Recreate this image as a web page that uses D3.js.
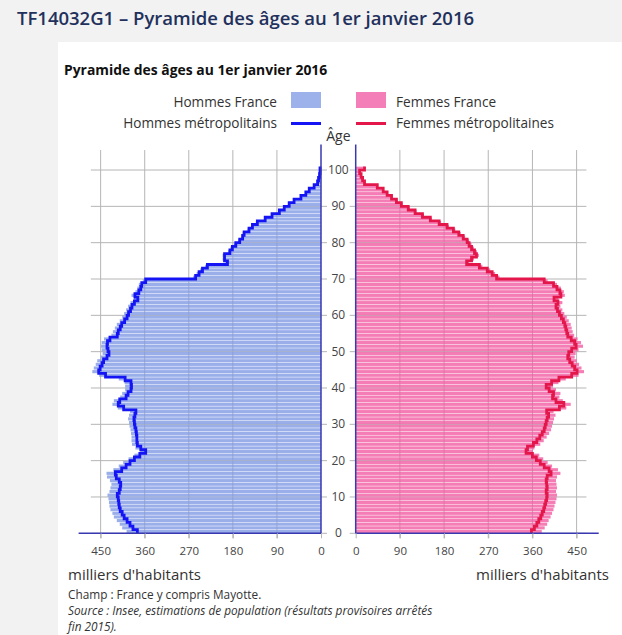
<!DOCTYPE html>
<html><head><meta charset="utf-8">
<script src="https://cdn.jsdelivr.net/npm/d3@7"></script>
<style>body{margin:0;background:#f2f2f2;} svg{display:block;font-family:"Open Sans",sans-serif;}</style>
</head><body><svg id="c" width="622" height="635"></svg>
<script>
const ages = d3.range(0, 101);
const hommesFrance = [397,406,411,417,423,426,430,432,433,434,
436,432,430,428,431,437,438,424,413,404,
393,381,369,379,386,387,387,388,389,391,
392,394,392,390,415,426,423,410,406,400,
400,401,413,453,467,464,460,457,450,446,
448,449,448,443,428,425,421,417,411,406,
402,398,394,389,382,387,379,375,372,364,
261,254,247,237,195,201,201,190,185,178,
169,163,160,150,143,133,116,102,87,77,
67,56,42,32,25,15,8,5,3,2,2];
const hommesMetro = [375,384,390,396,402,406,410,412,413,414,
416,412,410,409,412,418,420,407,398,390,
381,370,358,368,375,376,376,377,378,380,
381,382,380,378,403,414,411,398,394,388,
387,388,400,440,454,451,447,444,437,433,
435,437,436,431,416,414,410,407,401,396,
393,389,386,381,374,380,372,368,366,358,
256,249,242,232,191,197,197,186,181,174,
166,160,157,147,140,130,114,100,85,75,
65,55,41,31,24,14,7,5,3,2,2];
const femmesFrance = [379,385,390,393,397,400,403,405,407,409,
410,408,410,409,408,410,417,412,400,391,
382,374,361,364,376,383,389,394,398,400,
402,404,407,403,429,438,422,415,417,408,
402,413,428,454,465,460,455,450,446,448,
454,463,459,452,445,442,440,438,434,430,
425,421,417,421,413,426,424,418,410,391,
293,284,274,258,231,241,251,247,241,236,
231,223,214,203,190,174,155,139,124,110,
95,85,75,66,57,45,19,15,11,8,18];
const femmesMetro = [358,364,369,373,377,380,383,385,387,389,
390,388,390,389,388,390,398,394,384,376,
368,360,347,350,362,369,375,380,384,386,
388,390,393,389,415,424,408,401,403,394,
388,399,414,440,451,446,441,436,432,434,
440,449,446,439,432,430,428,426,423,419,
415,411,408,412,404,418,416,410,403,384,
287,278,268,252,226,236,246,242,236,231,
227,219,210,199,186,170,152,136,121,107,
93,83,73,64,56,44,18,14,11,8,18];
const xTicks = [0, 90, 180, 270, 360, 450];
const ageTicks = [0, 10, 20, 30, 40, 50, 60, 70, 80, 90, 100];
const legendLabels = ["Hommes France", "Femmes France", "Hommes métropolitains", "Femmes métropolitaines"];

const cBlueFill = "rgb(129,154,229)", cPinkFill = "rgb(243,93,163)";
const cBlueLine = "#1414f5", cRedLine = "#e3174a", cAxis = "#3838b0", cGrid = "#b5b5b5";

const svg = d3.select("#c");
svg.append("rect").attr("width", 622).attr("height", 635).attr("fill", "#f2f2f2");
svg.append("rect").attr("x", 58).attr("y", 42).attr("width", 564).attr("height", 593).attr("fill", "#fff");

svg.append("text").attr("x", 17).attr("y", 25).attr("font-size", 18.5).attr("font-weight", 600)
  .attr("fill", "#22305c").text("TF14032G1 – Pyramide des âges au 1er janvier 2016");
svg.append("text").attr("x", 64).attr("y", 75).attr("font-size", 13.9).attr("font-weight", 700)
  .attr("fill", "#111").text("Pyramide des âges au 1er janvier 2016");

const y = d3.scaleLinear().domain([0, 107]).range([533.3, 144.6]);
const xL = d3.scaleLinear().domain([0, 495]).range([321, 78.6]);
const xR = d3.scaleLinear().domain([0, 495]).range([355.7, 598.7]);

// legend
const lg = svg.append("g").attr("font-size", 13.6).attr("fill", "#333");
lg.append("text").attr("x", 277).attr("y", 107).attr("text-anchor", "end").text(legendLabels[0]);
lg.append("rect").attr("x", 291).attr("y", 92).attr("width", 30).attr("height", 16).attr("fill", "#9db1ea");
lg.append("rect").attr("x", 356).attr("y", 92).attr("width", 30).attr("height", 16).attr("fill", "#f47eb7");
lg.append("text").attr("x", 396).attr("y", 107).text(legendLabels[1]);
lg.append("text").attr("x", 277).attr("y", 128).attr("text-anchor", "end").text(legendLabels[2]);
lg.append("line").attr("x1", 291).attr("x2", 321).attr("y1", 123.5).attr("y2", 123.5).attr("stroke", cBlueLine).attr("stroke-width", 3);
lg.append("line").attr("x1", 356).attr("x2", 386).attr("y1", 123.5).attr("y2", 123.5).attr("stroke", cRedLine).attr("stroke-width", 3);
lg.append("text").attr("x", 396).attr("y", 128).text(legendLabels[3]);

// grid
const grid = svg.append("g").attr("stroke", cGrid).attr("stroke-width", 1);
ageTicks.forEach(a => {
  grid.append("line").attr("x1", xL(470)).attr("x2", xL(0) + 6).attr("y1", y(a)).attr("y2", y(a));
  grid.append("line").attr("x1", xR(0) - 6).attr("x2", xR(470)).attr("y1", y(a)).attr("y2", y(a));
});
xTicks.filter(t => t > 0).forEach(t => {
  grid.append("line").attr("x1", xL(t)).attr("x2", xL(t)).attr("y1", y(105.5)).attr("y2", y(0) + 5);
  grid.append("line").attr("x1", xR(t)).attr("x2", xR(t)).attr("y1", y(105.5)).attr("y2", y(0) + 5);
});

// bars
const bh = a => y(a) - y(a + 1);
svg.append("g").selectAll("rect").data(ages).join("rect")
  .attr("x", a => xL(hommesFrance[a])).attr("width", a => xL(0) - xL(hommesFrance[a]))
  .attr("y", a => y(a + 1) + 0.25).attr("height", a => bh(a) - 0.5)
  .attr("fill", cBlueFill).attr("fill-opacity", 0.8);
svg.append("g").selectAll("rect").data(ages).join("rect")
  .attr("x", xR(0)).attr("width", a => xR(femmesFrance[a]) - xR(0))
  .attr("y", a => y(a + 1) + 0.25).attr("height", a => bh(a) - 0.5)
  .attr("fill", cPinkFill).attr("fill-opacity", 0.8);

// step lines
function stepPts(vals, xs) {
  const pts = [];
  vals.forEach((v, a) => { pts.push([xs(v), y(a)]); pts.push([xs(v), y(a + 1)]); });
  return pts;
}
const lineGen = d3.line();
svg.append("path").attr("d", lineGen(stepPts(hommesMetro, xL))).attr("fill", "none")
  .attr("stroke", cBlueLine).attr("stroke-width", 2.8).attr("stroke-linejoin", "miter");
svg.append("path").attr("d", lineGen(stepPts(femmesMetro, xR))).attr("fill", "none")
  .attr("stroke", cRedLine).attr("stroke-width", 2.8).attr("stroke-linejoin", "miter");

// axes lines
const ax = svg.append("g").attr("stroke", cAxis).attr("stroke-width", 1.5);
ax.append("line").attr("x1", xL(0)).attr("x2", xL(0)).attr("y1", y(107)).attr("y2", y(0));
ax.append("line").attr("x1", xR(0)).attr("x2", xR(0)).attr("y1", y(107)).attr("y2", y(0));
ax.append("line").attr("x1", xL(495)).attr("x2", xL(0)).attr("y1", y(0)).attr("y2", y(0));
ax.append("line").attr("x1", xR(0)).attr("x2", xR(495)).attr("y1", y(0)).attr("y2", y(0));

// x axes labels
function styleAxis(g) {
  g.select(".domain").remove();
  g.selectAll(".tick line").attr("stroke", cGrid);
  g.selectAll(".tick text").attr("font-size", 11.5).attr("fill", "#444").attr("font-family", "Open Sans, sans-serif");
}
svg.append("g").attr("transform", `translate(0,${y(0)})`)
  .call(d3.axisBottom(xL).tickValues(xTicks).tickSize(5).tickPadding(9).tickFormat(d3.format("d"))).call(styleAxis);
svg.append("g").attr("transform", `translate(0,${y(0)})`)
  .call(d3.axisBottom(xR).tickValues(xTicks).tickSize(5).tickPadding(9).tickFormat(d3.format("d"))).call(styleAxis);

// age labels
const midX = (xL(0) + xR(0)) / 2;
svg.append("g").selectAll("text").data(ageTicks).join("text")
  .attr("x", midX).attr("y", a => y(a) + 4).attr("text-anchor", "middle")
  .attr("font-size", 12).attr("fill", "#444").text(a => a);
svg.append("text").attr("x", midX).attr("y", 141).attr("text-anchor", "middle")
  .attr("font-size", 14).attr("fill", "#333").text("Âge");

svg.append("text").attr("x", 68).attr("y", 580).attr("font-size", 15).attr("fill", "#333").text("milliers d'habitants");
svg.append("text").attr("x", 609).attr("y", 580).attr("text-anchor", "end").attr("font-size", 15).attr("fill", "#333").text("milliers d'habitants");

svg.append("text").attr("x", 68).attr("y", 599).attr("font-size", 11.8).attr("fill", "#333").text("Champ : France y compris Mayotte.");
svg.append("text").attr("x", 68).attr("y", 615).attr("font-size", 11.8).attr("font-style", "italic").attr("fill", "#333")
  .text("Source : Insee, estimations de population (résultats provisoires arrêtés");
svg.append("text").attr("x", 68).attr("y", 631).attr("font-size", 11.8).attr("font-style", "italic").attr("fill", "#333").text("fin 2015).");
</script></body></html>
